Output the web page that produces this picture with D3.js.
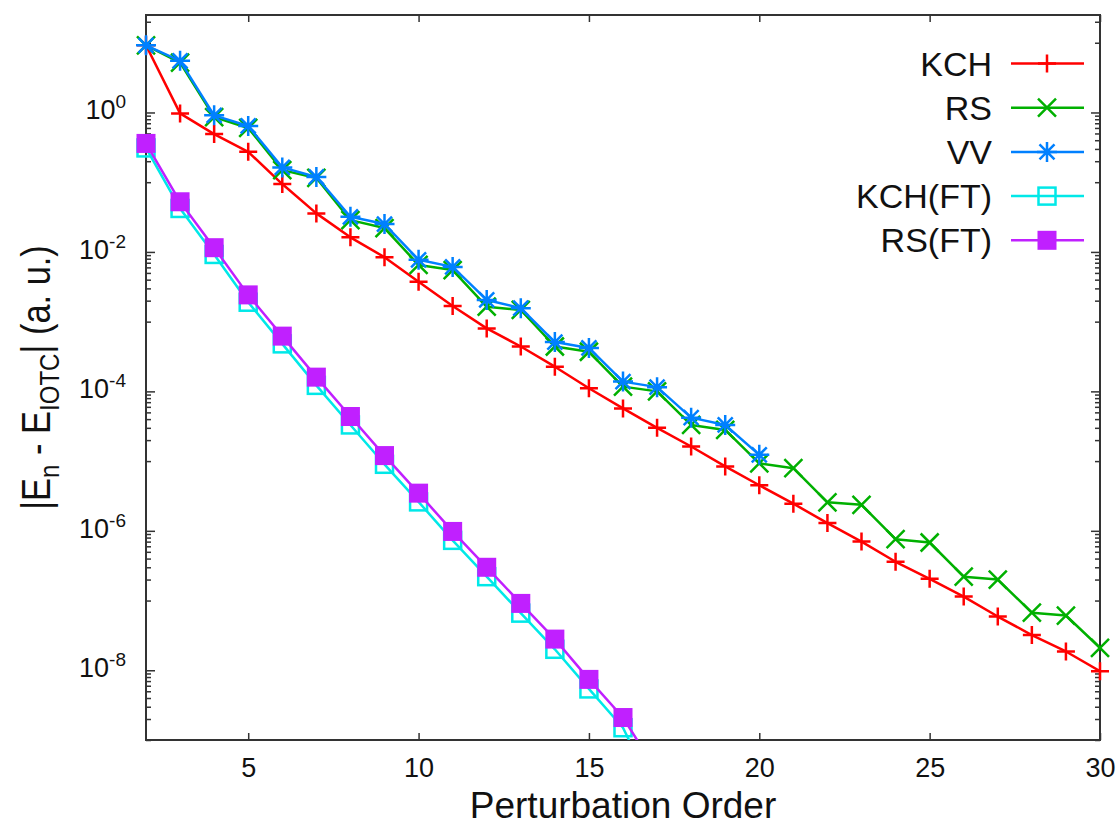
<!DOCTYPE html>
<html>
<head>
<meta charset="utf-8">
<script src="https://cdn.jsdelivr.net/npm/d3@7"></script>
<style>
  body { margin: 0; background: #fff; }
  text { font-family: 'Liberation Sans', Arial, sans-serif; fill: #111; }
</style>
</head>
<body>
<div id="vis"></div>
<script>
// perturbation orders for each group of series
const ordersLong = [2, 3, 4, 5, 6, 7, 8, 9, 10, 11, 12, 13, 14, 15, 16, 17, 18, 19, 20, 21, 22, 23, 24, 25, 26, 27, 28, 29, 30]
const ordersVV = [2, 3, 4, 5, 6, 7, 8, 9, 10, 11, 12, 13, 14, 15, 16, 17, 18, 19, 20]
const ordersFT = [2, 3, 4, 5, 6, 7, 8, 9, 10, 11, 12, 13, 14, 15, 16, 17]

// |E_n - E_IOTC| values
const kchValues = [9.2, 0.97, 0.49, 0.273, 0.094, 0.0357, 0.0162, 0.0084, 0.00374, 0.00168, 8.0e-4, 4.4e-4, 2.26e-4, 1.11e-4,
  5.7e-5, 3.0e-5, 1.62e-5, 8.4e-6, 4.5e-6, 2.45e-6, 1.29e-6, 7.0e-7, 3.6e-7, 2.05e-7, 1.14e-7, 5.9e-8, 3.2e-8, 1.86e-8, 9.7e-9]
const rsValues = [9.2, 5.2, 0.86, 0.6, 0.149, 0.115, 0.0286, 0.022, 0.0065, 0.0055, 0.00164, 0.00147, 4.4e-4, 3.7e-4,
  1.17e-4, 1.0e-4, 3.3e-5, 2.8e-5, 9.3e-6, 7.9e-6, 2.56e-6, 2.36e-6, 7.6e-7, 6.8e-7, 2.2e-7, 2.0e-7, 6.7e-8, 6.1e-8, 2.1e-8]
const vvValues = [9.2, 5.5, 0.91, 0.64, 0.163, 0.119, 0.0319, 0.0251, 0.0077, 0.0061, 0.00205, 0.00156, 5.1e-4, 4.2e-4,
  1.38e-4, 1.15e-4, 4.2e-5, 3.3e-5, 1.23e-5]
const kchFtValues = [0.31, 0.042, 0.0092, 0.0019, 4.8e-4, 1.22e-4, 3.3e-5, 9.0e-6, 2.6e-6, 7.3e-7, 2.2e-7, 6.6e-8,
  2.0e-8, 5.4e-9, 1.5e-9, 1.5e-10]
const rsFtValues = [0.36, 0.0524, 0.0115, 0.00242, 6.2e-4, 1.6e-4, 4.36e-5, 1.2e-5, 3.47e-6, 9.8e-7, 3.0e-7, 9.1e-8,
  2.8e-8, 7.4e-9, 2.1e-9, 3.5e-10]

const seriesNames = ['KCH', 'RS', 'VV', 'KCH(FT)', 'RS(FT)']
const xTicks = [5, 10, 15, 20, 25, 30]
const yTickExponents = [0, -2, -4, -6, -8]

const width = 1118
const height = 828
const plot = { left: 146, right: 1100, top: 15, bottom: 740 }

const series = [
  { name: seriesNames[0], orders: ordersLong, values: kchValues, color: '#ff0000', marker: 'plus' },
  { name: seriesNames[1], orders: ordersLong, values: rsValues, color: '#00b000', marker: 'cross' },
  { name: seriesNames[2], orders: ordersVV, values: vvValues, color: '#0080ff', marker: 'star' },
  { name: seriesNames[3], orders: ordersFT, values: kchFtValues, color: '#00e8e8', marker: 'box' },
  { name: seriesNames[4], orders: ordersFT, values: rsFtValues, color: '#c020ff', marker: 'boxFilled' }
]

const svg = d3.select('#vis').append('svg')
  .attr('width', width).attr('height', height)
  .attr('viewBox', [0, 0, width, height])

const x = d3.scaleLinear().domain([2, 30]).range([plot.left, plot.right])
const y = d3.scaleLog().domain([1e-9, 25]).range([plot.bottom, plot.top])

svg.append('defs').append('clipPath').attr('id', 'plot-clip')
  .append('rect')
  .attr('x', plot.left).attr('y', plot.top)
  .attr('width', plot.right - plot.left).attr('height', plot.bottom - plot.top)

// axes: ticks inward on all four sides
const yMajors = yTickExponents.map((e) => Math.pow(10, e))
const yMinors = y.ticks(100).filter((v) => {
  const e = Math.floor(Math.log10(v) + 1e-9)
  return Math.abs(e) % 2 === 1
})

const axisStyle = (g) => {
  g.select('.domain').remove()
  g.selectAll('.tick line').attr('stroke', '#333').attr('stroke-width', 1.5)
}

svg.append('g')
  .attr('transform', `translate(0,${plot.bottom})`)
  .call(d3.axisBottom(x).tickValues(xTicks).tickSize(-7).tickPadding(18).tickFormat(d3.format('d')))
  .call(axisStyle)
  .call((g) => g.selectAll('text').attr('font-size', 27).attr('fill', '#111')
    .attr('font-family', "'Liberation Sans', Arial, sans-serif"))

svg.append('g')
  .attr('transform', `translate(0,${plot.top})`)
  .call(d3.axisTop(x).tickValues(xTicks).tickSize(-7).tickFormat(''))
  .call(axisStyle)

svg.append('g')
  .attr('transform', `translate(${plot.left},0)`)
  .call(d3.axisLeft(y).tickValues(yMajors).tickSize(-9).tickFormat(''))
  .call(axisStyle)

svg.append('g')
  .attr('transform', `translate(${plot.left},0)`)
  .call(d3.axisLeft(y).tickValues(yMinors).tickSize(-5).tickFormat(''))
  .call(axisStyle)

svg.append('g')
  .attr('transform', `translate(${plot.right},0)`)
  .call(d3.axisRight(y).tickValues(yMajors).tickSize(-9).tickFormat(''))
  .call(axisStyle)

svg.append('g')
  .attr('transform', `translate(${plot.right},0)`)
  .call(d3.axisRight(y).tickValues(yMinors).tickSize(-5).tickFormat(''))
  .call(axisStyle)

// y tick labels as 10 with superscript exponent
const yLabels = svg.append('g').selectAll('text')
  .data(yTickExponents)
  .join('text')
  .attr('x', plot.left - 20)
  .attr('y', (d) => y(Math.pow(10, d)) + 7)
  .attr('text-anchor', 'end')
  .attr('font-size', 27)
yLabels.append('tspan').text('10')
yLabels.append('tspan').attr('dy', -11).attr('font-size', 19).text((d) => d === 0 ? '0' : '-' + Math.abs(d))

// frame
svg.append('rect')
  .attr('x', plot.left).attr('y', plot.top)
  .attr('width', plot.right - plot.left).attr('height', plot.bottom - plot.top)
  .attr('fill', 'none').attr('stroke', '#333').attr('stroke-width', 2)

// axis titles
svg.append('text')
  .attr('x', (plot.left + plot.right) / 2)
  .attr('y', 818)
  .attr('text-anchor', 'middle')
  .attr('font-size', 37)
  .text('Perturbation Order')

// the original title is set in a narrow face, so squeeze it along its length
const yTitle = svg.append('text')
  .attr('transform', `translate(50,${(plot.top + plot.bottom) / 2}) rotate(-90) scale(0.86,1)`)
  .attr('text-anchor', 'middle')
  .attr('font-size', 40)
yTitle.append('tspan').text('|E')
yTitle.append('tspan').attr('dy', 9).attr('font-size', 28).text('n')
yTitle.append('tspan').attr('dy', -9).text(' - E')
yTitle.append('tspan').attr('dy', 9).attr('font-size', 28).text('IOTC')
yTitle.append('tspan').attr('dy', -9).text('| (a. u.)')

// marker shapes
const markerPath = (type) => {
  const s = 9
  const c = 7.5
  if (type === 'plus') return `M${-s},0H${s}M0,${-s}V${s}`
  if (type === 'cross') return `M${-s},${-s}L${s},${s}M${-s},${s}L${s},${-s}`
  if (type === 'star') return `M${-10},0H10M0,-10V10M${-c},${-c}L${c},${c}M${-c},${c}L${c},${-c}`
  return ''
}

const drawMarker = (g, type, color) => {
  if (type === 'box') {
    g.append('rect').attr('x', -8.5).attr('y', -8.5).attr('width', 17).attr('height', 17)
      .attr('fill', 'none').attr('stroke', color).attr('stroke-width', 2.5)
  } else if (type === 'boxFilled') {
    g.append('rect').attr('x', -9.5).attr('y', -9.5).attr('width', 19).attr('height', 19)
      .attr('fill', color)
  } else {
    g.append('path').attr('d', markerPath(type))
      .attr('fill', 'none').attr('stroke', color).attr('stroke-width', 2.5)
  }
}

const line = d3.line()
  .x((d) => x(d.order))
  .y((d) => y(d.value))

series.forEach((s) => {
  const points = s.orders.map((o, i) => ({ order: o, value: s.values[i] }))
  const g = svg.append('g')

  g.append('path')
    .attr('d', line(points))
    .attr('fill', 'none')
    .attr('stroke', s.color)
    .attr('stroke-width', 2.5)
    .attr('stroke-linejoin', 'round')
    .attr('clip-path', 'url(#plot-clip)')

  points.filter((p) => p.value >= y.domain()[0]).forEach((p) => {
    const m = g.append('g').attr('transform', `translate(${x(p.order)},${y(p.value)})`)
    drawMarker(m, s.marker, s.color)
  })
})

// legend
const legendTop = 63.5
const legendStep = 44.2
series.forEach((s, i) => {
  const ly = legendTop + i * legendStep
  const g = svg.append('g')
  g.append('text')
    .attr('x', 992)
    .attr('y', ly + 12)
    .attr('text-anchor', 'end')
    .attr('font-size', 34)
    .text(s.name)
  g.append('path')
    .attr('d', d3.line()([[1011, ly], [1084, ly]]))
    .attr('stroke', s.color)
    .attr('stroke-width', 2.5)
  const m = g.append('g').attr('transform', `translate(1047,${ly})`)
  drawMarker(m, s.marker, s.color)
})
</script>
</body>
</html>
